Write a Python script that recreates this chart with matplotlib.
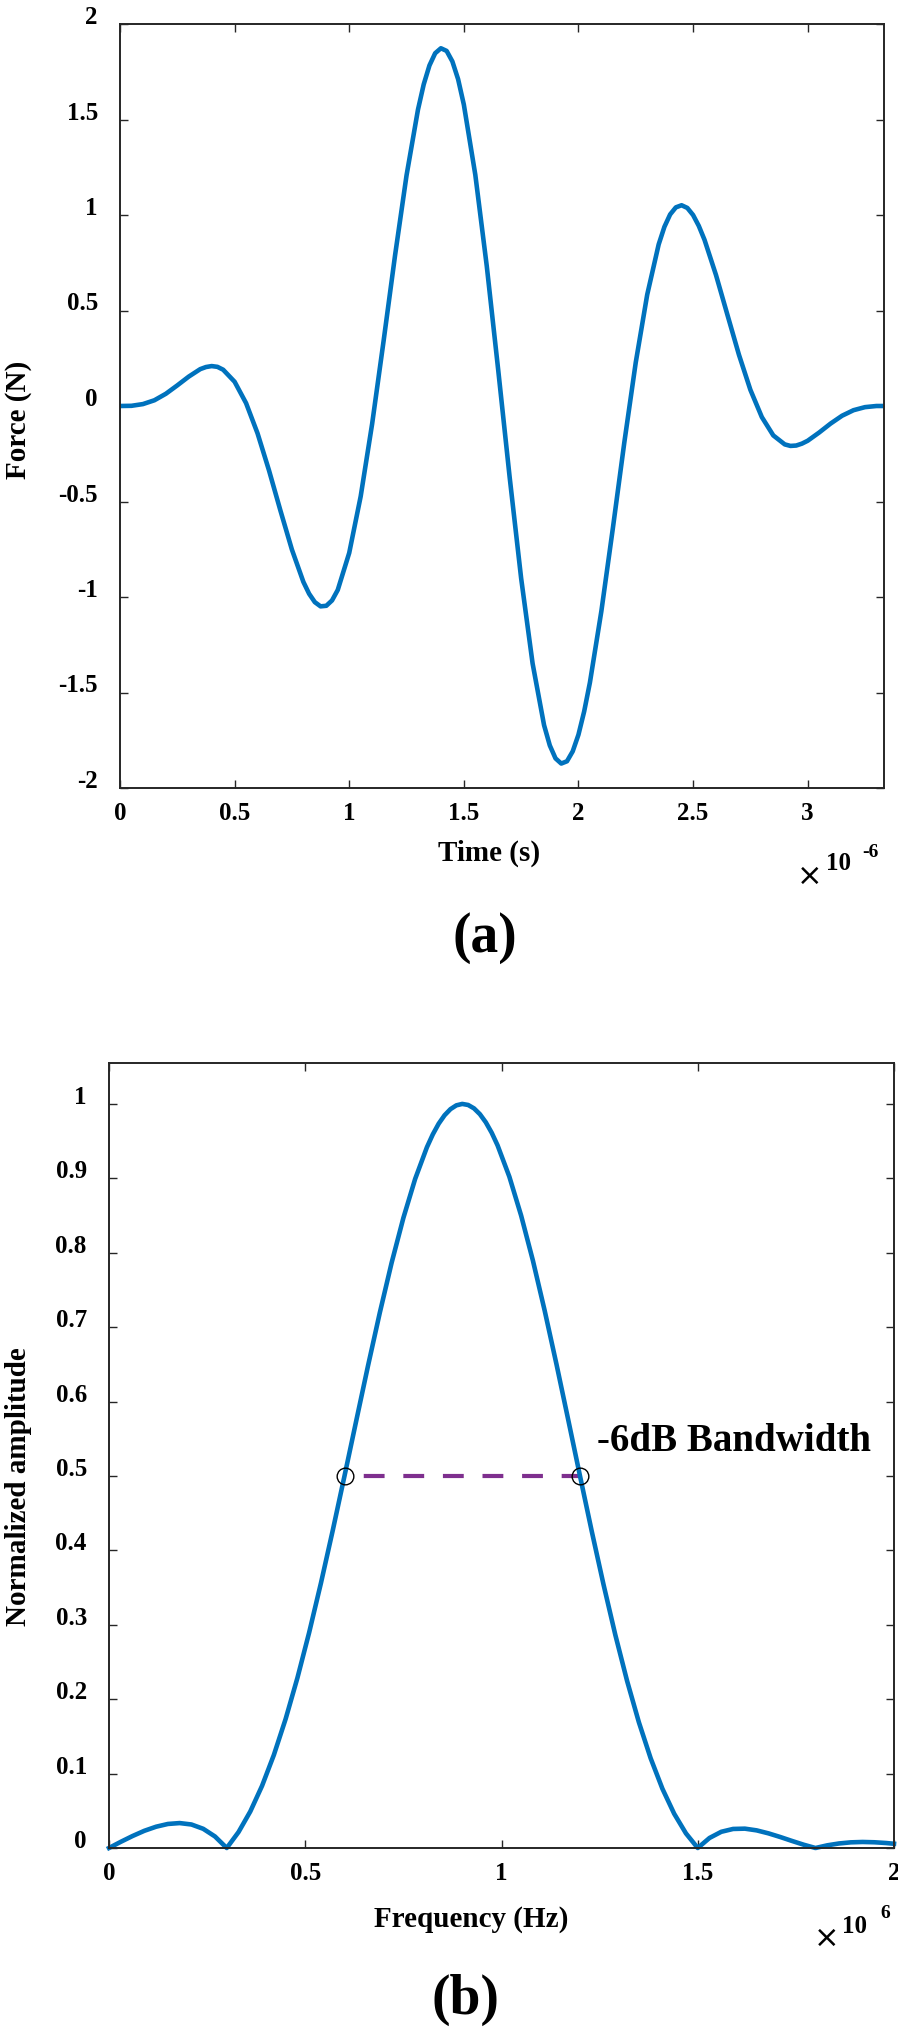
import matplotlib
matplotlib.use("Agg")
import matplotlib.pyplot as plt

# (a) excitation force, time axis in units of 1e-6 s
time_us = [0.00, 0.05, 0.10, 0.15, 0.20, 0.25, 0.30, 0.35, 0.375, 0.40, 0.425, 0.45,
           0.50, 0.55, 0.60, 0.65, 0.70, 0.75, 0.80, 0.825, 0.85, 0.875, 0.90, 0.925, 0.95,
           1.00, 1.05, 1.10, 1.15, 1.20, 1.25, 1.30, 1.325, 1.35, 1.375, 1.40, 1.425, 1.45,
           1.475, 1.50, 1.55, 1.60, 1.65, 1.70, 1.75, 1.80, 1.85, 1.875, 1.90, 1.925, 1.95,
           1.975, 2.00, 2.025, 2.05, 2.10, 2.15, 2.20, 2.25, 2.30, 2.35, 2.375, 2.40, 2.425,
           2.45, 2.475, 2.50, 2.525, 2.55, 2.60, 2.65, 2.70, 2.75, 2.80, 2.85, 2.90, 2.925,
           2.95, 2.975, 3.00, 3.05, 3.10, 3.15, 3.20, 3.25, 3.30, 3.333]
force_n = [0.000, 0.001, 0.010, 0.030, 0.064, 0.108, 0.154, 0.193, 0.204, 0.209, 0.205, 0.190,
           0.127, 0.015, -0.143, -0.337, -0.548, -0.752, -0.921, -0.983, -1.027, -1.049, -1.046, -1.018, -0.963,
           -0.769, -0.473, -0.093, 0.341, 0.789, 1.207, 1.552, 1.684, 1.783, 1.847, 1.873, 1.859, 1.804,
           1.711, 1.578, 1.211, 0.733, 0.188, -0.374, -0.902, -1.348, -1.671, -1.777, -1.845, -1.872, -1.860,
           -1.808, -1.721, -1.599, -1.448, -1.074, -0.641, -0.192, 0.228, 0.583, 0.846, 0.938, 1.003, 1.040,
           1.051, 1.037, 1.000, 0.943, 0.870, 0.686, 0.477, 0.269, 0.085, -0.058, -0.154, -0.201, -0.209,
           -0.207, -0.197, -0.182, -0.139, -0.092, -0.051, -0.022, -0.006, 0.000, 0.000]

# (b) normalised spectrum, frequency axis in units of 1e6 Hz
freq_mhz = [0.00, 0.03, 0.06, 0.09, 0.12, 0.15, 0.18, 0.21, 0.24, 0.27,
            0.30, 0.33, 0.36, 0.39, 0.42, 0.45, 0.48, 0.51, 0.54, 0.57,
            0.60, 0.63, 0.66, 0.69, 0.72, 0.75, 0.78, 0.81, 0.825, 0.84, 0.855, 0.87,
            0.885, 0.90, 0.915, 0.93, 0.945, 0.96, 0.975, 0.99, 1.02, 1.05, 1.08, 1.11, 1.14, 1.17,
            1.20, 1.23, 1.26, 1.29, 1.32, 1.35, 1.38, 1.41, 1.44, 1.47,
            1.50, 1.53, 1.56, 1.59, 1.62, 1.65, 1.68, 1.71, 1.74, 1.77,
            1.80, 1.83, 1.86, 1.89, 1.92, 1.95, 1.98, 2.00]
amplitude = [0.0, 0.0083, 0.0161, 0.0231, 0.0286, 0.0323, 0.0335, 0.0316, 0.0258, 0.0155,
             0.0, 0.0214, 0.0491, 0.0836, 0.1250, 0.1734, 0.2285, 0.2897, 0.3561, 0.4267,
             0.5000, 0.5744, 0.6483, 0.7195, 0.7864, 0.8468, 0.8992, 0.9418, 0.9591, 0.9735, 0.9848, 0.9930,
             0.9981, 1.0000, 0.9986, 0.9940, 0.9862, 0.9753, 0.9613, 0.9443, 0.9022, 0.8500, 0.7895, 0.7222, 0.6503, 0.5755,
             0.5000, 0.4255, 0.3539, 0.2864, 0.2245, 0.1690, 0.1206, 0.0796, 0.0460, 0.0196,
             0.0, 0.0135, 0.0218, 0.0256, 0.0260, 0.0237, 0.0197, 0.0148, 0.0095, 0.0044,
             0.0, 0.0036, 0.0061, 0.0076, 0.0081, 0.0077, 0.0067, 0.0057]

# -6 dB points
bw_freq = [0.6, 1.2]
bw_level = [0.5, 0.5]

xticks_a = [0, 0.5, 1, 1.5, 2, 2.5, 3]
yticks_a = [-2, -1.5, -1, -0.5, 0, 0.5, 1, 1.5, 2]
xticks_b = [0, 0.5, 1, 1.5, 2]
yticks_b = [0, 0.1, 0.2, 0.3, 0.4, 0.5, 0.6, 0.7, 0.8, 0.9, 1]

plt.rcParams['font.family'] = ['Liberation Serif', 'DejaVu Serif']
plt.rcParams['font.weight'] = 'bold'
plt.rcParams['axes.labelweight'] = 'bold'
plt.rcParams['axes.unicode_minus'] = False

blue = '#0072BD'
purple = '#7E2F8E'
axis_col = '#262626'

W, H = 898, 2032
fig = plt.figure(figsize=(W / 100, H / 100), dpi=100)


def add_axes_px(left, top, right, bottom):
    return fig.add_axes([left / W, 1 - bottom / H, (right - left) / W, (bottom - top) / H])


def fmt(v):
    return ('%g' % v)


def style(ax, xt, yt):
    for s in ax.spines.values():
        s.set_color(axis_col)
        s.set_linewidth(1.4)
    ax.set_xticks(xt)
    ax.set_xticklabels([fmt(v) for v in xt])
    ax.set_yticks(yt)
    ax.set_yticklabels([fmt(v) for v in yt])
    ax.tick_params(direction='in', top=True, right=True, length=6, width=1.0,
                   color=axis_col, labelsize=18, labelcolor='black')
    ax.tick_params(axis='x', pad=10)
    ax.tick_params(axis='y', pad=16)
    plt.setp(ax.get_yticklabels(), va='baseline')


def fig_text(x, y, s, **kw):
    fig.text(x / W, 1 - y / H, s, **kw)


# ---- (a) time signal
ax1 = add_axes_px(120, 24, 884, 788)
ax1.plot(time_us, force_n, color=blue, lw=3.3)
ax1.set_xlim(0, 3.333)
ax1.set_ylim(-2, 2)
style(ax1, xticks_a, yticks_a)
ax1.set_xlabel('Time (s)', fontsize=21, fontweight='bold', va='center')
ax1.xaxis.set_label_coords(0.483, -0.085)
ax1.set_ylabel('Force (N)', fontsize=21, fontweight='bold', va='center')
ax1.yaxis.set_label_coords(-0.1335, 0.482)

fig_text(810, 885, '×', fontsize=22, family='DejaVu Sans', weight='normal', ha='center', va='baseline')
fig_text(838, 870, '10', fontsize=18, ha='center', va='baseline')
fig_text(870, 857, '-6', fontsize=14, ha='center', va='baseline')
fig_text(485, 952, '(a)', fontsize=40, ha='center', va='baseline')

# ---- (b) spectrum
ax2 = add_axes_px(109, 1063, 894, 1848)
ax2.plot(bw_freq, bw_level, color=purple, lw=3, linestyle=(5, (5, 4.5)))
ax2.plot(freq_mhz, amplitude, color=blue, lw=3.3, clip_on=False)
ax2.plot(bw_freq, bw_level, linestyle='none', marker='o', ms=12, mfc='none',
         mec='black', mew=1.0)
ax2.set_xlim(0, 2)
ax2.set_ylim(0, 1.055)
style(ax2, xticks_b, yticks_b)
ax2.set_xlabel('Frequency (Hz)', fontsize=21, fontweight='bold', va='center')
ax2.xaxis.set_label_coords(0.461, -0.0917)
ax2.set_ylabel('Normalized amplitude', fontsize=21, fontweight='bold', va='center')
ax2.yaxis.set_label_coords(-0.1159, 0.46)
ax2.text(1.243, 0.5336, '-6dB Bandwidth', fontsize=28, ha='left', va='baseline')

fig_text(827, 1947, '×', fontsize=22, family='DejaVu Sans', weight='normal', ha='center', va='baseline')
fig_text(855, 1933, '10', fontsize=18, ha='center', va='baseline')
fig_text(885, 1918, '6', fontsize=14, ha='center', va='baseline')
fig_text(465, 2014, '(b)', fontsize=40, ha='center', va='baseline')

fig.savefig('out.png', dpi=100)
